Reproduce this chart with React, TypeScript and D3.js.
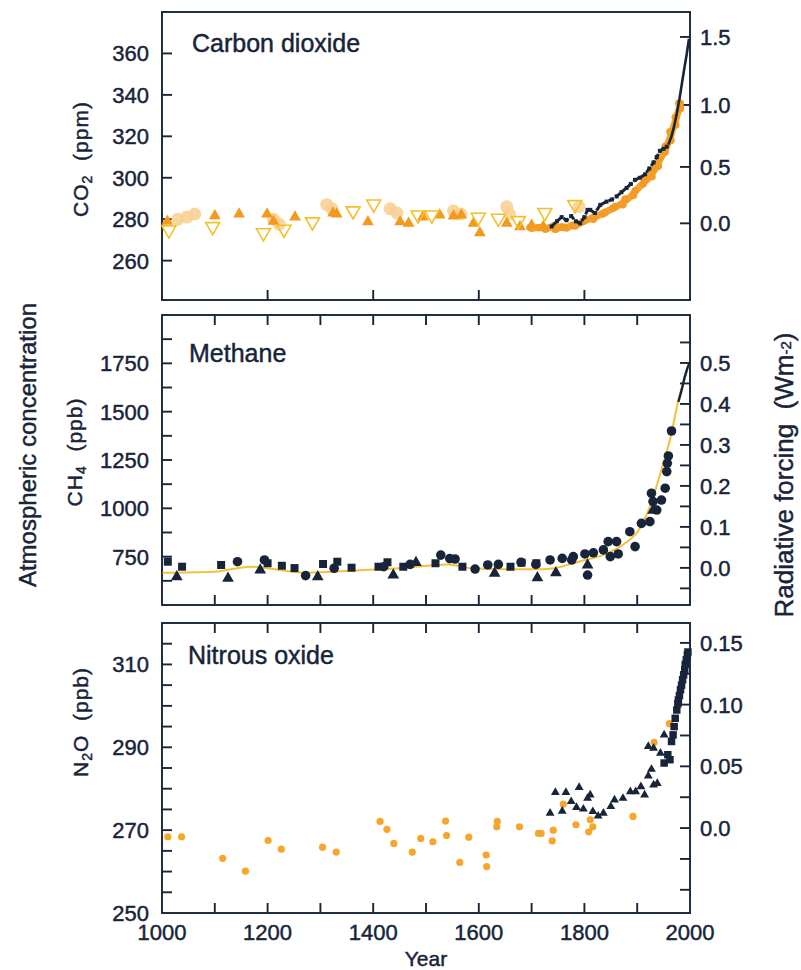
import * as d3 from "d3";

// ---- data ----
// CO2 (ppm)
const co2Filled = [
  [1010, 279], [1100, 281.6], [1146, 282.5], [1199, 282.5], [1211, 279], [1252, 281],
  [1324, 283], [1331, 282.5], [1390, 278.7], [1451, 278.7], [1467, 278], [1494, 281],
  [1526, 282], [1552, 281.5], [1567, 282], [1590, 278], [1602, 273.4], [1653, 278],
  [1678, 276.3], [1700, 277], [1722, 276.5],
];
const co2Open = [
  [1013, 274.8], [1096, 276.4], [1192, 273.4], [1231, 275.1], [1285, 278.7], [1362, 284],
  [1401, 287.3], [1485, 282], [1511, 282], [1599, 280.9], [1637, 280.4], [1675, 279.3],
  [1725, 283.2], [1782, 287],
];
const co2Pale = [
  [1030, 280], [1047, 281], [1062, 282.5], [1211, 280], [1222, 277.5], [1312, 287],
  [1322, 285], [1432, 285], [1445, 283], [1552, 284], [1566, 282.5], [1653, 286],
  [1658, 282.5], [1790, 286],
];
const co2Band = [
  [1700, 275.5], [1712, 276], [1729, 275.6], [1740, 276.5], [1747, 275.2], [1756, 276.5],
  [1766, 275.6], [1776, 277], [1785, 277.2], [1795, 278.5], [1804, 279.6], [1814, 280.5],
  [1823, 281.3], [1832, 282.5], [1842, 283.7], [1851, 284.8], [1861, 286.1], [1870, 287.5],
  [1880, 289.3], [1890, 291.5], [1899, 294.2], [1908, 296.5], [1918, 299], [1925, 301],
  [1931, 303], [1937, 305.5], [1943, 308.8], [1950, 312], [1956, 315.2], [1961, 318.5],
  [1965, 321.7], [1970, 325.5], [1975, 329.7], [1979, 333], [1982, 336],
];
const co2Siple = [
  [1738, 276.5], [1748, 279], [1757, 281], [1766, 279.5], [1775, 281.5], [1784, 279],
  [1792, 278], [1800, 281], [1806, 284.5], [1811, 284.5], [1820, 283], [1830, 286.9],
  [1842, 288.5], [1852, 289.5], [1861, 291], [1870, 293], [1880, 295.1], [1888, 297],
  [1896, 299], [1905, 300], [1915, 301.7], [1923, 304.5], [1931, 307.4], [1937, 310],
  [1943, 313], [1950, 314], [1956, 315],
];
const co2MaunaLoa = [
  [1959, 316], [1965, 320], [1970, 325], [1975, 331], [1980, 338], [1985, 346],
  [1990, 354], [1994, 360], [1998, 367],
];

// CH4 (ppb)
const ch4Squares = [
  [1011, 724], [1038, 698], [1112, 707], [1200, 716], [1227, 703], [1251, 691], [1305, 712],
  [1332, 724], [1359, 693], [1410, 698], [1427, 721], [1457, 698], [1518, 716], [1569, 698],
  [1660, 698], [1681, 719], [1709, 716],
];
const ch4Circles = [
  [1143, 724], [1194, 733], [1272, 652], [1326, 690], [1420, 698], [1470, 710], [1528, 758],
  [1545, 740], [1555, 738], [1593, 686], [1617, 707], [1637, 710], [1680, 721], [1708, 710],
  [1735, 733], [1758, 741], [1776, 733], [1779, 750], [1801, 764], [1806, 655], [1817, 770],
  [1836, 785], [1845, 828], [1849, 750], [1861, 828], [1864, 764], [1886, 879], [1896, 802],
  [1908, 922], [1924, 931], [1927, 1078], [1930, 1035], [1937, 991], [1946, 1043],
  [1953, 1104], [1956, 1190], [1957, 1233], [1959, 1271], [1965, 1400],
];
const ch4Triangles = [
  [1028, 646], [1125, 638], [1186, 681], [1295, 646], [1438, 655], [1481, 719], [1630, 664],
  [1711, 641], [1746, 666], [1806, 707], [1930, 990],
];
const ch4Recent = [[1978, 1550], [1984, 1610], [1990, 1680], [1995, 1725], [1999, 1752]];
const ch4Fit = [
  [1001, 667], [1099, 672], [1167, 698], [1200, 690], [1268, 667], [1383, 681], [1451, 690],
  [1539, 710], [1586, 690], [1654, 685], [1721, 685], [1742, 690], [1789, 724], [1843, 767],
  [1877, 819], [1903, 888], [1924, 1009], [1944, 1181], [1965, 1388], [1978, 1560],
  [1989, 1664], [1998, 1745],
];

// N2O (ppb)
const n2oOrange = [
  [1011, 268.4], [1037, 268.4], [1115, 263.2], [1158, 260.1], [1201, 267.5], [1226, 265.4],
  [1304, 265.9], [1330, 264.7], [1413, 272.1], [1426, 270.2], [1439, 266.8], [1474, 264.7],
  [1490, 268], [1513, 267.2], [1537, 272.2], [1539, 268.7], [1564, 262.2], [1581, 268.3],
  [1614, 264], [1615, 261.2], [1635, 272.1], [1634, 270.8], [1677, 270.8], [1713, 269.2],
  [1718, 269.2], [1739, 267.4], [1741, 270], [1760, 276.3], [1784, 271.3], [1808, 269.6],
  [1811, 272.5], [1816, 270.8], [1892, 273.3], [1932, 291.2], [1961, 295.7],
];
const n2oTriangles = [
  [1735, 274.1], [1745, 279.1], [1758, 274.6], [1765, 279.1], [1775, 276.9], [1785, 275.5],
  [1790, 280.3], [1798, 275.1], [1806, 277.7], [1811, 278.5], [1816, 274.5], [1826, 273.4],
  [1836, 274.1], [1850, 275.7], [1857, 277.3], [1873, 277.7], [1887, 279.3], [1897, 279.3],
  [1907, 280.5], [1914, 278.5], [1921, 283.1], [1927, 284.7], [1931, 280.9], [1938, 281.3],
  [1921, 290.2], [1931, 289.8], [1944, 288.6], [1951, 293],
];
const n2oSquares = [
  [1951, 286.2], [1958, 288.2], [1962, 287], [1965, 291.4], [1968, 293], [1970, 295],
  [1972, 297], [1975, 299], [1977, 300.5], [1978, 301.4], [1980, 302.5], [1982, 303.9],
  [1984, 305], [1986, 306.3], [1988, 307.5], [1990, 308.7], [1991, 310], [1993, 311.1],
  [1995, 312.3], [1996, 313],
];

// axis ticks
const co2Ticks = [260, 280, 300, 320, 340, 360];
const co2Forcing = [0, 0.5, 1.0, 1.5];
const ch4Ticks = d3.range(625, 2000, 125);
const ch4Labels = [750, 1000, 1250, 1500, 1750];
const ch4Forcing = d3.range(-0.05, 0.56, 0.05);
const ch4ForcingLabels = [0, 0.1, 0.2, 0.3, 0.4, 0.5];
const n2oTicks = d3.range(255, 320, 5);
const n2oLabels = [250, 270, 290, 310];
const n2oForcing = d3.range(-0.05, 0.151, 0.025);
const n2oForcingLabels = [0, 0.05, 0.1, 0.15];
const yearLabels = [1000, 1200, 1400, 1600, 1800, 2000];

const INK = "#18243a";
const FONT = "'Liberation Sans', Arial, Helvetica, sans-serif";
const L = 162, R = 690, TL = 10;
const heavy = { stroke: INK, strokeWidth: 0.45 };

const x = d3.scaleLinear([1000, 2000], [L, R]);
const yCO2 = d3.scaleLinear([241, 380], [300, 12]);
const yCH4 = d3.scaleLinear([500, 2000], [605, 315]);
const yN2O = d3.scaleLinear([250, 320], [913, 623]);
const rfCH4 = d3.scaleLinear([0, 0.5], [692, 1752]);
const rfN2O = d3.scaleLinear([0, 0.15], [270.5, 315.2]);
const co2FromRf = (f) => 278 * Math.exp(f / 5.35);

const tri = d3.symbol(d3.symbolTriangle, 60)();
const triBig = d3.symbol(d3.symbolTriangle, 85)();
const triSmall = d3.symbol(d3.symbolTriangle, 34)();
const sq = d3.symbol(d3.symbolSquare, 64)();
const sqSmall = d3.symbol(d3.symbolSquare, 56)();

function Frame({ top, bottom, yTicks, yLabels, y, rTicks, rLabels, ry, rFmt, xTicks, topTicks }) {
  return (
    <g>
      <rect x={L} y={top} width={R - L} height={bottom - top} fill="none" stroke={INK} strokeWidth={1.9} />
      {yTicks.map((t) => (
        <line key={"l" + t} x1={L} x2={L + TL} y1={y(t)} y2={y(t)} stroke={INK} strokeWidth={1.9} />
      ))}
      {yLabels.map((t) => (
        <text key={"lt" + t} x={149} y={y(t)} dy="0.36em" textAnchor="end" fontSize={22} {...heavy}>{t}</text>
      ))}
      {rTicks.map((t) => (
        <line key={"r" + t} x1={R - TL} x2={R} y1={ry(t)} y2={ry(t)} stroke={INK} strokeWidth={1.9} />
      ))}
      {rLabels.map((t) => (
        <text key={"rt" + t} x={700} y={ry(t)} dy="0.36em" fontSize={22} {...heavy}>{rFmt(t)}</text>
      ))}
      {xTicks.map((t) => (
        <line key={"b" + t} x1={x(t)} x2={x(t)} y1={bottom} y2={bottom - TL} stroke={INK} strokeWidth={1.9} />
      ))}
      {topTicks &&
        xTicks.map((t) => (
          <line key={"t" + t} x1={x(t)} x2={x(t)} y1={top} y2={top + TL} stroke={INK} strokeWidth={1.9} />
        ))}
    </g>
  );
}

export default function App() {
  const fmtRf = (t) => (Math.abs(t) < 1e-9 ? "0.0" : d3.format(".1f")(t));
  const fmtN2O = (t) => (Math.abs(t) < 1e-9 ? "0.0" : d3.format(".2f")(t));
  const co2Line = d3.line().x((d) => x(d[0])).y((d) => yCO2(d[1]));
  const ch4Line = d3.line().x((d) => x(d[0])).y((d) => yCH4(d[1]));
  const ch4Curve = d3.line().x((d) => x(d[0])).y((d) => yCH4(d[1])).curve(d3.curveMonotoneX);
  const hundreds = d3.range(1100, 2000, 100);

  return (
    <svg width={801} height={970} style={{ position: "absolute", left: 0, top: 0, background: "#fff" }}
      fontFamily={FONT} fill={INK}>
      {/* ---- CO2 ---- */}
      <Frame top={12} bottom={300} yTicks={co2Ticks} yLabels={co2Ticks} y={yCO2}
        rTicks={co2Forcing} rLabels={co2Forcing} ry={(f) => yCO2(co2FromRf(f))} rFmt={fmtRf}
        xTicks={[1200, 1400, 1600, 1800]} topTicks={false} />
      <g>
        {co2Pale.map((d, i) => (
          <circle key={i} cx={x(d[0])} cy={yCO2(d[1])} r={6.5} fill="#f8cf8e" opacity={0.85} />
        ))}
        <path d={co2Line(co2Band)} fill="none" stroke="#f4a534" strokeWidth={7} strokeLinecap="round" strokeLinejoin="round" />
        {co2Band.map((d, i) => (
          <circle key={i} cx={x(d[0]) + (i % 2 ? 1.5 : -1.5)} cy={yCO2(d[1]) + (i % 3) - 1} r={3.8} fill="#f29c25" />
        ))}
        {co2Filled.map((d, i) => (
          <path key={i} d={tri} transform={`translate(${x(d[0])},${yCO2(d[1])})`} fill="#f39a1e" />
        ))}
        {co2Open.map((d, i) => (
          <path key={i} d={triBig} transform={`translate(${x(d[0])},${yCO2(d[1])}) rotate(180)`}
            fill="none" stroke="#f3c02a" strokeWidth={1.6} />
        ))}
        <path d={co2Line(co2Siple)} fill="none" stroke={INK} strokeWidth={3} strokeDasharray="6 2" strokeLinejoin="round" />
        {co2Siple.map((d, i) => (
          <rect key={i} x={x(d[0]) - 2} y={yCO2(d[1]) - 2} width={4} height={4} fill={INK} />
        ))}
        <path d={co2Line(co2MaunaLoa)} fill="none" stroke={INK} strokeWidth={2.6} />
      </g>
      <text x={192} y={52} fontSize={25} {...heavy}>Carbon dioxide</text>

      {/* ---- CH4 ---- */}
      <Frame top={315} bottom={605} yTicks={ch4Ticks} yLabels={ch4Labels} y={yCH4}
        rTicks={ch4Forcing} rLabels={ch4ForcingLabels} ry={(f) => yCH4(rfCH4(f))} rFmt={fmtRf}
        xTicks={hundreds} topTicks={true} />
      <g>
        <path d={ch4Curve(ch4Fit)} fill="none" stroke="#f4c03c" strokeWidth={2} />
        {ch4Squares.map((d, i) => (
          <path key={i} d={sq} transform={`translate(${x(d[0])},${yCH4(d[1])})`} fill={INK} />
        ))}
        {ch4Circles.map((d, i) => (
          <circle key={i} cx={x(d[0])} cy={yCH4(d[1])} r={4.8} fill={INK} />
        ))}
        {ch4Triangles.map((d, i) => (
          <path key={i} d={tri} transform={`translate(${x(d[0])},${yCH4(d[1])})`} fill={INK} />
        ))}
        <path d={ch4Line(ch4Recent)} fill="none" stroke={INK} strokeWidth={2.4} />
      </g>
      <text x={189} y={362} fontSize={25} {...heavy}>Methane</text>

      {/* ---- N2O ---- */}
      <Frame top={623} bottom={913} yTicks={n2oTicks} yLabels={n2oLabels} y={yN2O}
        rTicks={n2oForcing} rLabels={n2oForcingLabels} ry={(f) => yN2O(rfN2O(f))} rFmt={fmtN2O}
        xTicks={hundreds} topTicks={true} />
      <g>
        {n2oOrange.map((d, i) => (
          <circle key={i} cx={x(d[0])} cy={yN2O(d[1])} r={3.6} fill="#f6a62a" />
        ))}
        {n2oTriangles.map((d, i) => (
          <path key={i} d={triSmall} transform={`translate(${x(d[0])},${yN2O(d[1])})`} fill={INK} />
        ))}
        {n2oSquares.map((d, i) => (
          <path key={i} d={sqSmall} transform={`translate(${x(d[0])},${yN2O(d[1])})`} fill={INK} />
        ))}
      </g>
      <text x={188} y={664} fontSize={25} {...heavy}>Nitrous oxide</text>

      {/* x labels */}
      {yearLabels.map((t) => (
        <text key={t} x={x(t)} y={940} textAnchor="middle" fontSize={22} {...heavy}>{t}</text>
      ))}
      <text x={426} y={966} textAnchor="middle" fontSize={21} {...heavy}>Year</text>

      {/* axis titles */}
      <g fontSize={21} letterSpacing={1} {...heavy}>
        <text transform="translate(88,159) rotate(-90)" textAnchor="middle">
          CO<tspan fontSize={14} dy={4}>2</tspan><tspan dy={-4}>{"\u00a0\u00a0(ppm)"}</tspan>
        </text>
        <text transform="translate(82,452) rotate(-90)" textAnchor="middle">
          CH<tspan fontSize={14} dy={4}>4</tspan><tspan dy={-4}>{"\u00a0\u00a0(ppb)"}</tspan>
        </text>
        <text transform="translate(88,722) rotate(-90)" textAnchor="middle">
          N<tspan fontSize={14} dy={4}>2</tspan><tspan dy={-4}>{"O\u00a0\u00a0(ppb)"}</tspan>
        </text>
      </g>
      <text transform="translate(36,445) rotate(-90)" textAnchor="middle" fontSize={24} {...heavy}>
        Atmospheric concentration
      </text>
      <text transform="translate(793,475) rotate(-90)" textAnchor="middle" fontSize={26} {...heavy}>
        {"Radiative forcing\u00a0\u00a0(Wm"}<tspan fontSize={15} dy={-2}>-2</tspan><tspan dy={2}>)</tspan>
      </text>
    </svg>
  );
}
